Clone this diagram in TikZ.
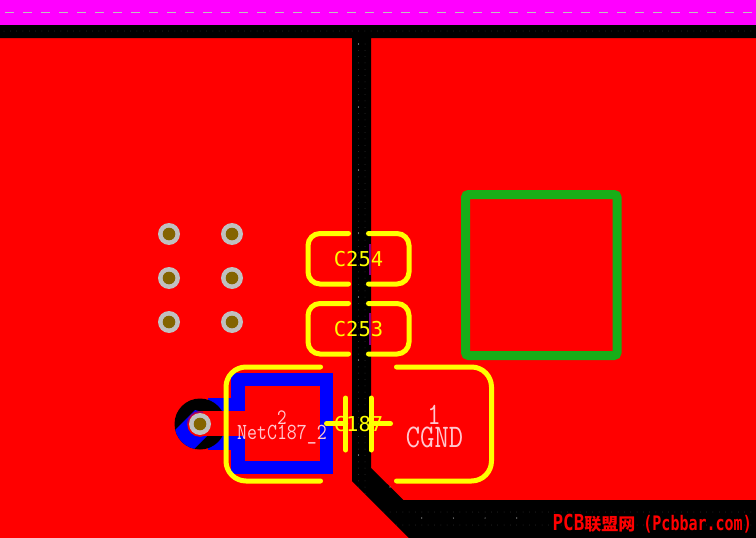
\documentclass[tikz,border=0pt]{standalone}
\usepackage{fontspec}
\newfontfamily\cjkfont{Noto Sans CJK SC}
\newfontfamily\refdesfont{DejaVu Sans Mono}
\usetikzlibrary{calc}
\definecolor{cCopper}{HTML}{FF0000}
\definecolor{cBoard}{HTML}{FF00FF}
\definecolor{cTrace}{HTML}{0000FF}
\definecolor{cSilk}{HTML}{FFFF00}
\definecolor{cGap}{HTML}{000000}
\definecolor{cViaRing}{HTML}{C0C0C0}
\definecolor{cViaHole}{HTML}{846400}
\definecolor{cKeepout}{HTML}{18AE18}
\definecolor{cNetText}{HTML}{FFC8D0}
\definecolor{cPurple}{HTML}{800080}
\newcommand{\netlabel}[2]{\scalebox{.84}[1]{\fontsize{#1}{#1}\selectfont\ttfamily #2}}
\tikzset{
    silk/.style={draw=cSilk,line width=5pt,line cap=round},
    viaring/.style={fill=cViaRing},
    viahole/.style={fill=cViaHole},
    refdes/.style={text=cSilk,inner sep=0pt,font=\fontsize{20.5}{20.5}\selectfont\refdesfont},
    netname/.style={text=cNetText,inner sep=0pt},
}

\begin{document}
\begin{tikzpicture}[x=1pt,y=-1pt]
\useasboundingbox (0,0) rectangle (756,538);
%铜皮
\fill[cCopper] (0,0) rectangle (756,538);
\fill[cBoard] (0,0) rectangle (756,25);
\draw[cViaRing,line width=1pt,dash pattern=on 9pt off 9pt] (5,12.5) -- (756,12.5);

%间隙
\fill[cGap] (0,25) -- (756,25) -- (756,38) -- (371,38) -- (371,468) -- (403.5,500)
    -- (756,500) -- (756,538) -- (409,538) -- (352,481) -- (352,38) -- (0,38) -- cycle;
\begin{scope}
\clip (0,25) -- (756,25) -- (756,38) -- (371,38) -- (371,468) -- (403.5,500)
    -- (756,500) -- (756,538) -- (409,538) -- (352,481) -- (352,38) -- (0,38) -- cycle;
\foreach \x in {0,...,119}
{
    \fill[black!82!white] (4+6.33*\x,31) circle (0.5);
    \fill[black!82!white] (4+6.33*\x,512) circle (0.5);
    \fill[black!82!white] (4+6.33*\x,525) circle (0.5);
};
\foreach \y in {0,...,73}
    \fill[black!82!white] (358.5,44+6.33*\y) circle (0.5);
\foreach \y in {0,...,73}
    \fill[black!82!white] (365,44+6.33*\y) circle (0.5);
\end{scope}
\foreach \x/\y in {358.5/44,358.5/107,358.5/170,358.5/233,358.5/297,358.5/360,358.5/455,
    390/487,421.7/518,453.4/518,485.1/518,516.8/518}
{
    \fill[cViaRing] (\x,\y) circle (0.6);
};

%焊盘连接
\coordinate (cViaPt) at (200,424);
\fill[cTrace] (208,398) rectangle (245,449.5);
\fill[cGap] (cViaPt) circle (25.5);
\begin{scope}
\clip (cViaPt) circle (25.5);
\fill[cTrace] (170,435) -- (195,410) -- (225,418) -- (190,453) -- cycle;
\end{scope}
\fill[cTrace] (231,373) rectangle (333,474);
\fill[cCopper] (245,386) rectangle (320,461);
\fill[cCopper] (200,411) rectangle (245,436);
\fill[cCopper] (cViaPt) circle (12.8);
\draw[cPurple,line width=1.2pt] ($(cViaPt)+(180:12.2)$) arc (180:285:12.2);

\fill[cPurple] (368.7,244) rectangle (371,275);
\fill[cPurple] (368.7,313) rectangle (371,345);

%过孔
\foreach \vx/\vy in {169/234,232/234,169/278,232/278,169/322,232/322,200/424}
{
    \fill[viaring] (\vx,\vy) circle (11);
    \fill[viahole] (\vx,\vy) circle (6.3);
};
\draw[draw=cKeepout,line width=9pt,rounded corners=3pt] (465.5,194.5) rectangle (617,355.5);

%丝印
\foreach \yT/\yB in {233.5/284,303.5/354}
{
    \draw[silk,rounded corners=12pt] (348.5,\yT) -- (308,\yT) -- (308,\yB) -- (348.5,\yB);
    \draw[silk,rounded corners=12pt] (368.5,\yT) -- (409,\yT) -- (409,\yB) -- (368.5,\yB);
};
\node[refdes] (nC254) at (358.5,259.5) {C254};
\node[refdes] (nC253) at (358.5,329.5) {C253};
\node[refdes] (nC187) at (358.5,424) {C187};

\draw[silk,rounded corners=20pt] (320.5,367) -- (226,367) -- (226,481) -- (320.5,481);
\draw[silk,rounded corners=20pt] (396.5,367) -- (491.5,367) -- (491.5,481) -- (396.5,481);
\draw[silk] (345.7,398) -- (345.7,450);
\draw[silk] (371,398) -- (371,450);
\draw[silk] (326.5,423.7) -- (345.7,423.7);
\draw[silk] (371,423.7) -- (390.5,423.7);

\node[netname] (nPadB) at (282,417.5) {\netlabel{22}{2}};
\node[netname] (nNetB) at (282,434.5) {\netlabel{23}{NetC187\_2}};
\node[netname] (nPadA) at (434,414.5) {\netlabel{31}{1}};
\node[netname] (nGnd) at (434.5,437.5) {\netlabel{33}{CGND}};

\node[anchor=east,text=cCopper,inner sep=0pt] (nLogo) at (752,524)
    {\refdesfont\bfseries\fontsize{22}{22}\selectfont\scalebox{.8}[1]{PCB}{\fontsize{17}{17}\selectfont\cjkfont 联盟网}\hspace{8pt}\scalebox{.75}[1]{\fontsize{20}{20}\selectfont (Pcbbar.com)}};
\end{tikzpicture}
\end{document}
